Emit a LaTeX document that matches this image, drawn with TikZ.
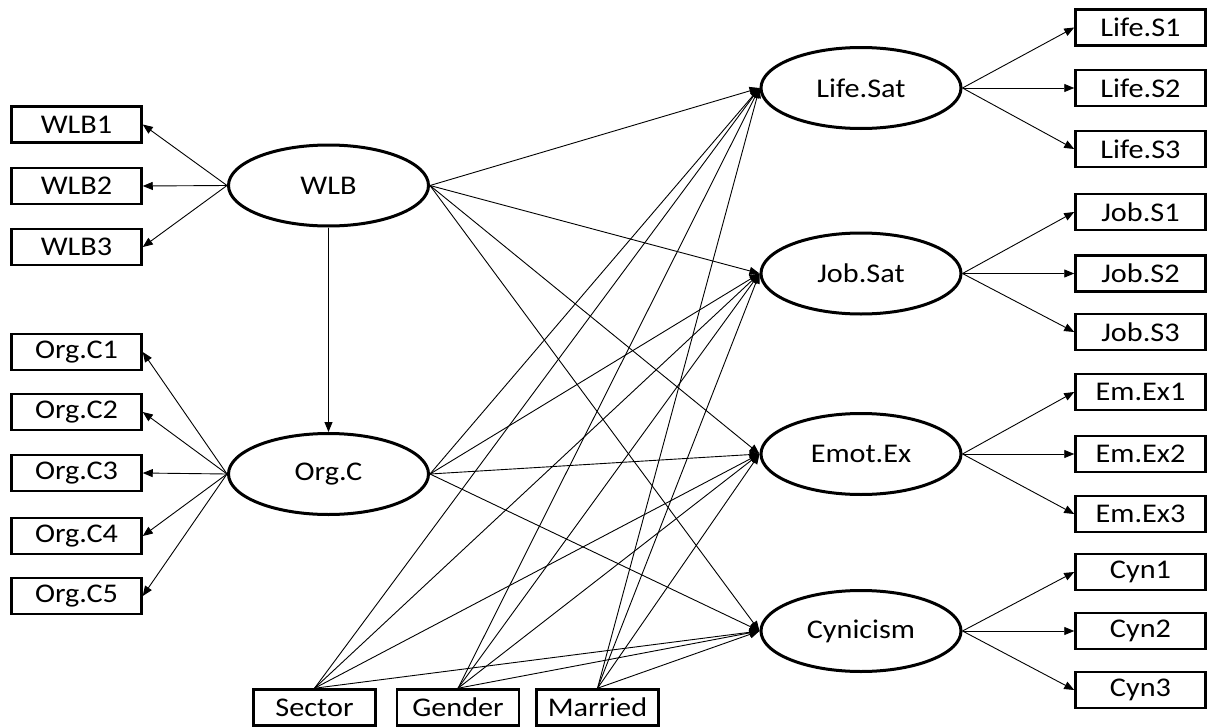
\documentclass[tikz,border=0pt]{standalone}
\usepackage{fontspec}
\setmainfont{Carlito}[FakeStretch=1.12]
\usetikzlibrary{shapes.geometric,arrows.meta}
\begin{document}
\begin{tikzpicture}[x=1pt,y=-1pt,
    obs/.style={rectangle, draw, line width=2.5pt, minimum width=130pt, minimum height=36pt, inner sep=0pt, font=\fontsize{27}{32}\selectfont},
    cov/.style={obs, minimum width=122pt},
    lat/.style={ellipse, draw, line width=3pt, minimum width=200pt, minimum height=81pt, inner sep=0pt, font=\fontsize{27}{32}\selectfont},
    link/.style={-{Triangle[length=10pt,width=8pt]}, line width=0.9pt}]
      \useasboundingbox (0,0) rectangle (1211,728);

      % latent variables
      \node[lat] (wlb) at (328.5,185.5) {WLB};
      \node[lat] (org) at (328.5,474) {Org.C};
      \node[lat] (life) at (861,88) {Life.Sat};
      \node[lat] (job) at (861,273.5) {Job.Sat};
      \node[lat] (emo) at (861,454) {Emot.Ex};
      \node[lat] (cyn) at (861,631) {Cynicism};

      % indicators
      \foreach \i/\y in {1/124.5, 2/186, 3/247}
        \node[obs] (w\i) at (76.5,\y) {WLB\i};
      \foreach \i/\y in {1/352, 2/412, 3/473, 4/536, 5/596}
        \node[obs] (o\i) at (76.5,\y) {Org.C\i};
      \foreach \i/\y in {1/27.5, 2/88, 3/149}
        \node[obs] (l\i) at (1140.5,\y) {Life.S\i};
      \foreach \i/\y in {1/212, 2/273.5, 3/332}
        \node[obs] (j\i) at (1140.5,\y) {Job.S\i};
      \foreach \i/\y in {1/392, 2/454, 3/514}
        \node[obs] (e\i) at (1140.5,\y) {Em.Ex\i};
      \foreach \i/\y in {1/572, 2/631, 3/690}
        \node[obs] (c\i) at (1140.5,\y) {Cyn\i};

      % covariates
      \node[cov] (sec) at (314.5,707.5) {Sector};
      \node[cov] (gen) at (458,707.5) {Gender};
      \node[cov] (mar) at (597.5,707.5) {Married};

      % measurement part
      \foreach \i in {1,2,3}
        \draw[link] (wlb.west) -- (w\i.east);
      \foreach \i in {1,...,5}
        \draw[link] (org.west) -- (o\i.east);
      \foreach \lat/\ind in {life/l, job/j, emo/e, cyn/c}
        \foreach \i in {1,2,3}
          \draw[link] (\lat.east) -- (\ind\i.west);

      % structural part
      \draw[link] (wlb.south) -- (org.north);
      \foreach \source in {wlb, org}
        \foreach \dest in {life, job, emo, cyn}
          \draw[link] (\source.east) -- (\dest.west);
      \foreach \source in {sec, gen, mar}
        \foreach \dest in {life, job, emo, cyn}
          \draw[link] (\source.north) -- (\dest.west);
\end{tikzpicture}
\end{document}
